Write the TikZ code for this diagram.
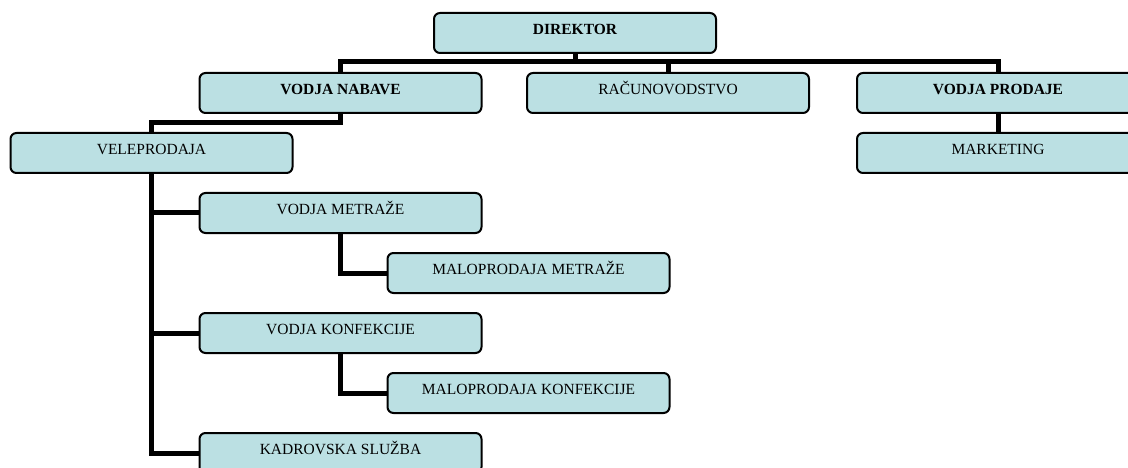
\documentclass[tikz,border=0pt]{standalone}
\usepackage{fontspec}
\setmainfont{Liberation Serif}
\usetikzlibrary{backgrounds}
\definecolor{boxfill}{RGB}{187,224,227}
\tikzset{
  orgbox/.style={draw=black, line width=2pt, fill=boxfill, rounded corners=6pt,
    minimum width=282pt, minimum height=40pt, inner sep=0pt,
    text height=11pt, text depth=8pt, font=\fontsize{15.5}{18}\selectfont},
  bold/.style={font=\fontsize{15.5}{18}\selectfont\bfseries},
  conn/.style={draw=black, line width=5pt}
}
\begin{document}
\begin{tikzpicture}[x=1pt,y=-1pt]
\clip (0,0) rectangle (1128,468);
\node[orgbox,bold] (dir) at (575,33) {DIREKTOR};
\node[orgbox,bold] (nab) at (340.5,93) {VODJA NABAVE};
\node[orgbox] (rac) at (668,93) {RAČUNOVODSTVO};
\node[orgbox,bold] (prod) at (998,93) {VODJA PRODAJE};
\node[orgbox] (vel) at (151.5,153) {VELEPRODAJA};
\node[orgbox] (mark) at (998,153) {MARKETING};
\node[orgbox] (met) at (340.5,213) {VODJA METRAŽE};
\node[orgbox] (mmet) at (528.5,273) {MALOPRODAJA METRAŽE};
\node[orgbox] (konf) at (340.5,333) {VODJA KONFEKCIJE};
\node[orgbox] (mkonf) at (528.5,393) {MALOPRODAJA KONFEKCIJE};
\node[orgbox] (kad) at (340.5,453) {KADROVSKA SLUŽBA};
\begin{scope}[on background layer]
\coordinate (barL) at (nab.north |- 0,62);
\coordinate (barR) at (prod.north |- 0,62);
\draw[conn] (nab.north) -- (barL) -- (barR) -- (prod.north);
\draw[conn] (dir.south) -- (dir.south |- barL);
\draw[conn] (rac.north) -- (rac.north |- barL);
\coordinate (nabturn) at (nab.south |- 0,123);
\draw[conn] (nab.south) -- (nabturn) -| (vel.north);
\draw[conn] (vel.south) |- (kad.west);
\draw[conn] (vel.south) |- (met.west);
\draw[conn] (vel.south) |- (konf.west);
\draw[conn] (met.south) |- (mmet.west);
\draw[conn] (konf.south) |- (mkonf.west);
\draw[conn] (prod.south) -- (mark.north);
\end{scope}
\end{tikzpicture}
\end{document}
